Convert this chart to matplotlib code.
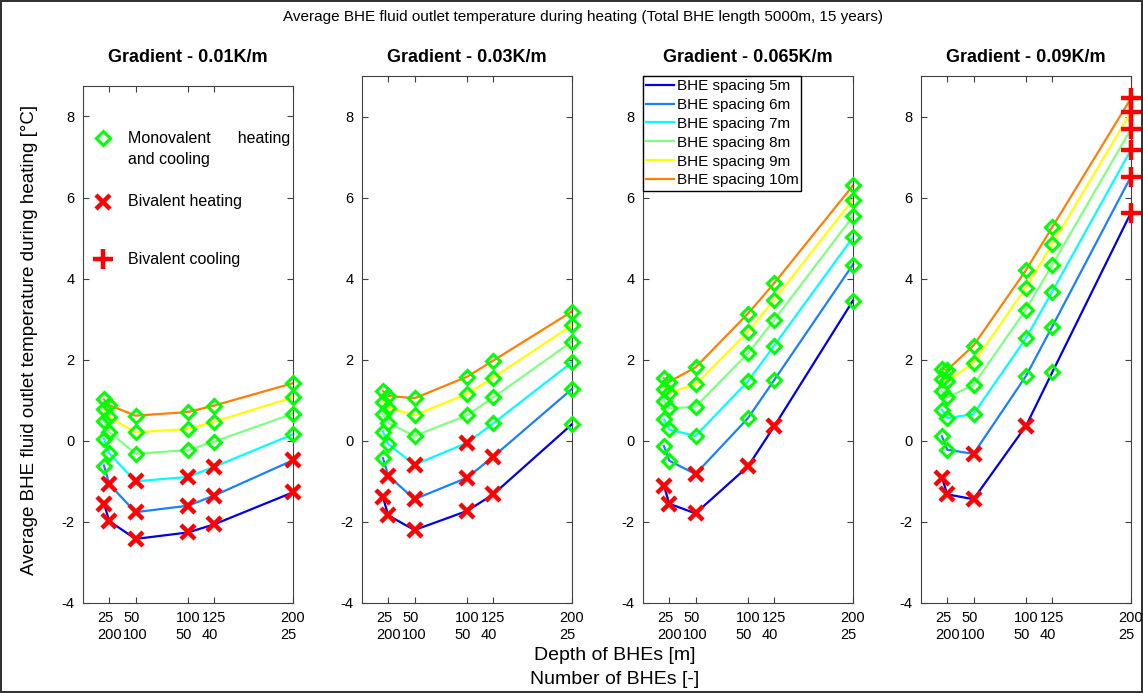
import matplotlib
matplotlib.use('Agg')
import matplotlib.pyplot as plt

plt.rcParams['font.family'] = ['Liberation Sans', 'DejaVu Sans']
plt.rcParams['axes.unicode_minus'] = False

# Data
depths = [20, 25, 50, 100, 125, 200]
tick_depths = [25, 50, 100, 125, 200]
tick_numbers = [200, 100, 50, 40, 25]

spacings = ['BHE spacing 5m', 'BHE spacing 6m', 'BHE spacing 7m',
            'BHE spacing 8m', 'BHE spacing 9m', 'BHE spacing 10m']
colors = ['#0000e6', '#1a80ff', '#00ffff', '#80ff80', '#ffff00', '#ff8000']

gradients = ['Gradient - 0.01K/m', 'Gradient - 0.03K/m',
             'Gradient - 0.065K/m', 'Gradient - 0.09K/m']

# temperature per gradient, one row per spacing (5m .. 10m)
temp_001 = [[-1.55, -1.98, -2.42, -2.26, -2.06, -1.27],
            [-0.61, -1.07, -1.76, -1.60, -1.35, -0.48],
            [0.05, -0.31, -1.00, -0.89, -0.64, 0.16],
            [0.49, 0.22, -0.32, -0.23, -0.02, 0.67],
            [0.78, 0.58, 0.21, 0.29, 0.47, 1.07],
            [1.02, 0.88, 0.62, 0.71, 0.87, 1.42]]
temp_003 = [[-1.39, -1.84, -2.20, -1.73, -1.32, 0.41],
            [-0.43, -0.86, -1.44, -0.91, -0.39, 1.28],
            [0.23, -0.08, -0.59, -0.05, 0.43, 1.94],
            [0.66, 0.44, 0.12, 0.63, 1.07, 2.45],
            [0.97, 0.82, 0.63, 1.16, 1.56, 2.85],
            [1.23, 1.11, 1.05, 1.58, 1.98, 3.19]]
temp_0065 = [[-1.11, -1.55, -1.79, -0.63, 0.36, 3.46],
             [-0.13, -0.49, -0.82, 0.56, 1.50, 4.35],
             [0.53, 0.28, 0.12, 1.47, 2.35, 5.02],
             [0.98, 0.80, 0.84, 2.16, 2.98, 5.54],
             [1.29, 1.19, 1.39, 2.69, 3.48, 5.95],
             [1.54, 1.46, 1.81, 3.14, 3.89, 6.30]]
temp_009 = [[-0.91, -1.32, -1.44, 0.37, 1.69, 5.63],
            [0.11, -0.22, -0.32, 1.60, 2.82, 6.52],
            [0.77, 0.56, 0.66, 2.53, 3.68, 7.18],
            [1.22, 1.07, 1.38, 3.24, 4.34, 7.69],
            [1.52, 1.47, 1.92, 3.78, 4.85, 8.11],
            [1.77, 1.75, 2.35, 4.21, 5.27, 8.45]]

# operation mode per point: D = monovalent, X = bivalent heating, + = bivalent cooling
mode_001 = ['XXXXXX', 'DXXXXX', 'DDXXXD', 'DDDDDD', 'DDDDDD', 'DDDDDD']
mode_003 = ['XXXXXD', 'DXXXXD', 'DDXXDD', 'DDDDDD', 'DDDDDD', 'DDDDDD']
mode_0065 = ['XXXXXD', 'DDXDDD', 'DDDDDD', 'DDDDDD', 'DDDDDD', 'DDDDDD']
mode_009 = ['XXXXD+', 'DDXDD+', 'DDDDD+', 'DDDDD+', 'DDDDD+', 'DDDDD+']

temps = [temp_001, temp_003, temp_0065, temp_009]
modes = [mode_001, mode_003, mode_0065, mode_009]

mode_labels = ['Monovalent      heating\nand cooling', 'Bivalent heating',
               'Bivalent cooling']

marker_style = {
    'D': dict(marker='D', ms=7.5, mfc='none', mec='#00ff00', mew=2.2),
    'X': dict(marker='x', ms=10, mec='#ff0000', mew=3.2),
    '+': dict(marker='+', ms=14, mec='#ff0000', mew=3.2),
}

W, H = 1143, 693
fig = plt.figure(figsize=(W / 100, H / 100), dpi=100)
fig.patch.set_edgecolor('#333333')
fig.patch.set_linewidth(1.5)

lefts = [83, 362, 643, 921]
tops = [86, 76, 76, 76]
ymaxes = [8.75, 9, 9, 9]
title_pads = [17, 10, 10, 10]
bottom = 603
width = 210

for k in range(4):
    ax = fig.add_axes([lefts[k] / W, (H - bottom) / H,
                       width / W, (bottom - tops[k]) / H])
    for s in range(6):
        ax.plot(depths, temps[k][s], color=colors[s], lw=1.6,
                label=spacings[s], clip_on=False, zorder=2)
    for kind, st in marker_style.items():
        xs, ys = [], []
        for s in range(6):
            for i in range(6):
                if modes[k][s][i] == kind:
                    xs.append(depths[i])
                    ys.append(temps[k][s][i])
        if xs:
            ax.plot(xs, ys, ls='none', clip_on=False, zorder=3, **st)

    ax.set_xlim(0, 200)
    ax.set_ylim(-4, ymaxes[k])
    ax.set_yticks(range(-4, 9, 2))
    ax.set_xticks(tick_depths)
    ax.set_xticklabels([f'{d}\n{n}' for d, n in zip(tick_depths, tick_numbers)],
                       multialignment='left')
    ax.tick_params(direction='in', top=True, right=True, length=4,
                   labelsize=10.5, color='#404040', pad=6)
    for sp in ax.spines.values():
        sp.set_color('#404040')
    ax.set_title(gradients[k], fontsize=13, fontweight='bold', pad=title_pads[k])

    if k == 2:
        ax.legend(loc='upper left', fontsize=11, frameon=True, fancybox=False,
                  edgecolor='black', framealpha=1, borderaxespad=0,
                  borderpad=0.2, labelspacing=0.32, handlelength=1.8,
                  handletextpad=0.2)
    if k == 0:
        # marker key drawn inside the first panel
        key_y = [0.899, 0.776, 0.665]
        text_y = [0.878, 0.776, 0.665]
        for kind, my, ty, lab in zip(['D', 'X', '+'], key_y, text_y, mode_labels):
            ax.plot([0.095], [my], ls='none', transform=ax.transAxes,
                    clip_on=False, zorder=4, **marker_style[kind])
            ax.text(0.213, ty, lab, transform=ax.transAxes, fontsize=11.5,
                    va='center', ha='left', linespacing=1.5)

fig.text(583 / W, 1 - 17 / H,
         'Average BHE fluid outlet temperature during heating (Total BHE length 5000m, 15 years)',
         ha='center', va='center', fontsize=11)
fig.text(30 / W, 1 - 340 / H,
         'Average BHE fluid outlet temperature during heating [°C]',
         rotation=90, ha='center', va='center', fontsize=13.5)
fig.text(615 / W, 1 - 655 / H, 'Depth of BHEs [m]', ha='center', va='center',
         fontsize=14)
fig.text(615 / W, 1 - 680 / H, 'Number of BHEs [-]', ha='center', va='center',
         fontsize=14)

fig.savefig('out.png', dpi=100, edgecolor=fig.get_edgecolor())
